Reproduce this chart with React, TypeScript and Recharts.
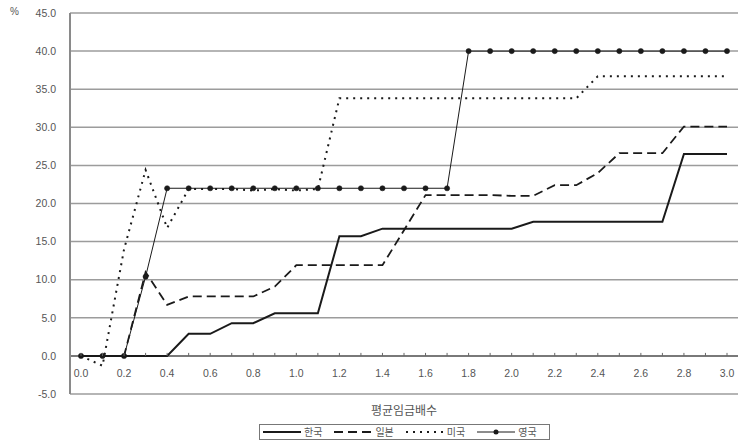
import { LineChart, Line, XAxis, YAxis, CartesianGrid, ReferenceLine } from 'recharts'

const categories = [
  '0.0', '0.1', '0.2', '0.3', '0.4', '0.5', '0.6', '0.7', '0.8', '0.9',
  '1.0', '1.1', '1.2', '1.3', '1.4', '1.5', '1.6', '1.7', '1.8', '1.9',
  '2.0', '2.1', '2.2', '2.3', '2.4', '2.5', '2.6', '2.7', '2.8', '2.9', '3.0',
]

const korea = [
  0, 0, 0, 0, 0, 2.9, 2.9, 4.3, 4.3, 5.6,
  5.6, 5.6, 15.7, 15.7, 16.7, 16.7, 16.7, 16.7, 16.7, 16.7,
  16.7, 17.6, 17.6, 17.6, 17.6, 17.6, 17.6, 17.6, 26.5, 26.5, 26.5,
]
const japan = [
  0, 0, 0, 11.0, 6.7, 7.8, 7.8, 7.8, 7.8, 9.1,
  11.9, 11.9, 11.9, 11.9, 11.9, 16.5, 21.1, 21.1, 21.1, 21.1,
  21.0, 21.0, 22.4, 22.4, 24.0, 26.6, 26.6, 26.6, 30.1, 30.1, 30.1,
]
const usa = [
  0, -1.3, 14.0, 24.4, 16.8, 21.9, 21.9, 21.9, 21.7, 21.9,
  21.7, 21.9, 33.8, 33.8, 33.8, 33.8, 33.8, 33.8, 33.8, 33.8,
  33.8, 33.8, 33.8, 33.8, 36.7, 36.7, 36.7, 36.7, 36.7, 36.7, 36.7,
]
const uk = [
  0, 0, 0, 10.4, 22.0, 22.0, 22.0, 22.0, 22.0, 22.0,
  22.0, 22.0, 22.0, 22.0, 22.0, 22.0, 22.0, 22.0, 40.0, 40.0,
  40.0, 40.0, 40.0, 40.0, 40.0, 40.0, 40.0, 40.0, 40.0, 40.0, 40.0,
]

const seriesNames = ['한국', '일본', '미국', '영국']
const yTicks = [-5, 0, 5, 10, 15, 20, 25, 30, 35, 40, 45]
const xTitle = '평균임금배수'
const yUnit = '%'

const data = categories.map((x, i) => ({
  x,
  korea: korea[i],
  japan: japan[i],
  usa: usa[i],
  uk: uk[i],
}))

const series = [
  { key: 'korea', name: seriesNames[0], width: 2, dash: undefined, dot: false },
  { key: 'japan', name: seriesNames[1], width: 1.8, dash: '9 5', dot: false },
  { key: 'usa', name: seriesNames[2], width: 2, dash: '2 5', dot: false },
  { key: 'uk', name: seriesNames[3], width: 1, dash: undefined, dot: true },
]

const W = 739
const H = 443
const TOP = 13
const X_AXIS_H = 49
const Y_MIN = -5
const Y_MAX = 45
const PLOT_H = H - X_AXIS_H - TOP
const ZERO_OFFSET = (PLOT_H * (0 - Y_MIN)) / (Y_MAX - Y_MIN)

const INK = '#1a1a1a'
const TEXT = '#555'

const XTick = (props: any) => {
  const { x, y, payload } = props
  const idx = categories.indexOf(payload.value)
  const zeroY = y - ZERO_OFFSET
  return (
    <g>
      <line x1={x} x2={x} y1={zeroY - 3} y2={zeroY} stroke="#666" strokeWidth={1} />
      {idx % 2 === 0 && (
        <text x={x} y={zeroY + 21} textAnchor="middle" fontSize={10.5} fill={TEXT}>
          {payload.value}
        </text>
      )}
    </g>
  )
}

const LegendSample = ({ s }: { s: typeof series[number] }) => (
  <svg width={40} height={14} style={{ display: 'block' }}>
    <line x1={1} x2={39} y1={7} y2={7} stroke={INK} strokeWidth={s.width === 1 ? 1 : 1.8} strokeDasharray={s.dash} />
    {s.dot && <circle cx={20} cy={7} r={2.5} fill={INK} />}
  </svg>
)

export default function App() {
  return (
    <div style={{ position: 'absolute', left: 0, top: 0, width: W, height: H, overflow: 'hidden', background: '#fff', fontFamily: '"Liberation Sans", Arial, sans-serif' }}>
      <LineChart width={W} height={H} data={data} margin={{ top: TOP, right: 1, bottom: 0, left: 0 }}>
        <CartesianGrid vertical={false} stroke="#9c9c9c" strokeWidth={1.5} />
        <XAxis
          dataKey="x"
          height={X_AXIS_H}
          axisLine={false}
          tickLine={false}
          tickSize={0}
          tickMargin={0}
          interval={0}
          padding={{ left: 11, right: 11 }}
          tick={<XTick />}
        />
        <YAxis
          width={70}
          domain={[Y_MIN, Y_MAX]}
          ticks={yTicks}
          interval={0}
          axisLine={{ stroke: '#8a8a8a', strokeWidth: 2 }}
          tickLine={false}
          tickSize={0}
          tickMargin={14}
          tick={{ fontSize: 10.5, fill: TEXT }}
          tickFormatter={(v: number) => v.toFixed(1)}
        />
        <ReferenceLine y={0} stroke="#666" strokeWidth={1.5} />
        {series.map((s) => (
          <Line
            key={s.key}
            type="linear"
            dataKey={s.key}
            name={s.name}
            stroke={INK}
            strokeWidth={s.width}
            strokeDasharray={s.dash}
            dot={s.dot ? { r: 2.6, fill: INK, stroke: INK, strokeWidth: 0.5 } : false}
            activeDot={false}
            isAnimationActive={false}
          />
        ))}
      </LineChart>
      <div style={{ position: 'absolute', left: 10, top: 6, fontSize: 10, color: TEXT }}>{yUnit}</div>
      <div
        style={{
          position: 'absolute',
          left: 304,
          width: 200,
          top: 402,
          textAlign: 'center',
          fontSize: 12,
          color: TEXT,
          fontFamily: '"Noto Sans CJK KR", sans-serif',
          lineHeight: '16px',
        }}
      >
        {xTitle}
      </div>
      <div
        style={{
          position: 'absolute',
          left: 259,
          top: 424,
          width: 291,
          height: 16,
          boxSizing: 'border-box',
          border: '1px solid #777',
          display: 'flex',
          alignItems: 'center',
          paddingLeft: 2,
          gap: 11,
          fontFamily: '"Noto Sans CJK KR", sans-serif',
          fontSize: 10,
          color: TEXT,
        }}
      >
        {series.map((s) => (
          <div key={s.key} style={{ display: 'flex', alignItems: 'center', gap: 2 }}>
            <LegendSample s={s} />
            <span style={{ lineHeight: '14px' }}>{s.name}</span>
          </div>
        ))}
      </div>
    </div>
  )
}
